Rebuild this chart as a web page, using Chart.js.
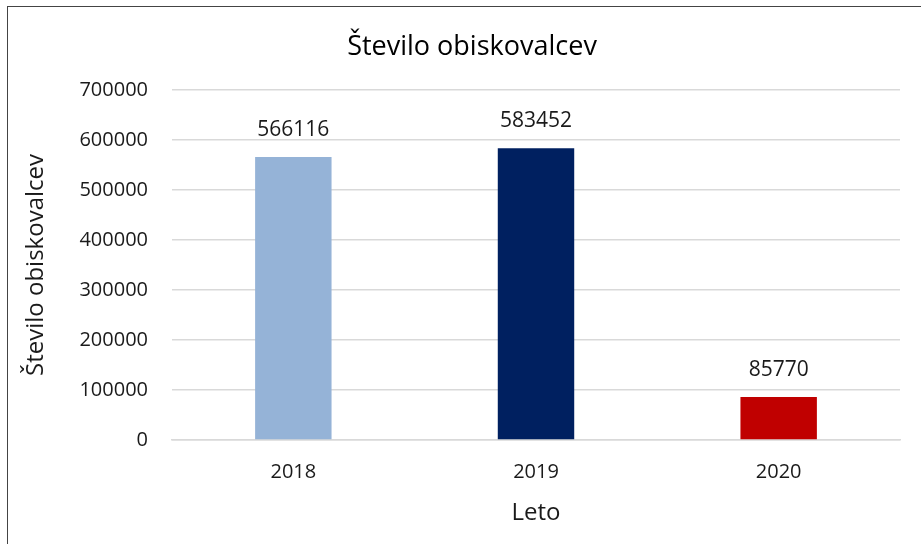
<!DOCTYPE html>
<html>
<head>
<meta charset="utf-8">
<script src="https://cdn.jsdelivr.net/npm/chart.js@4"></script>
<style>
    html, body { margin: 0; padding: 0; background: #fff; }
    #okvir {
        position: absolute; left: 7px; top: 6px; width: 914px; height: 538px;
        border-top: 1.5px solid #444; border-left: 1.5px solid #444;
    }
    canvas { position: absolute; left: 0; top: 0; }
</style>
</head>
<body>
<div id="okvir"></div>
<canvas id="myChart" width="921" height="544"></canvas>
<script>
const leta = ['2018', '2019', '2020'];
const obiskovalci = [566116, 583452, 85770];
const barve = ['#95B3D7', '#002060', '#C00000'];
const naslov = 'Število obiskovalcev';
const pisava = "'Open Sans', 'Noto Sans', sans-serif";

// naslov grafa in oznake vrednosti nad stolpci
const oznakePlugin = {
    id: 'oznake',
    afterDatasetsDraw(chart) {
        const ctx = chart.ctx;
        const meta = chart.getDatasetMeta(0);
        ctx.save();
        ctx.textAlign = 'center';
        ctx.textBaseline = 'middle';

        ctx.font = '27px ' + pisava;
        ctx.fillStyle = '#000';
        ctx.fillText(naslov, 472, 47);

        ctx.font = '21px ' + pisava;
        ctx.fillStyle = '#1a1a1a';
        meta.data.forEach(function (bar, i) {
            ctx.fillText(String(obiskovalci[i]), bar.x, bar.y - 27);
        });
        ctx.restore();
    }
};

const config = {
    type: 'bar',
    data: {
        labels: leta,
        datasets: [{
            label: naslov,
            data: obiskovalci,
            backgroundColor: barve,
            barPercentage: 0.63,
            categoryPercentage: 0.5
        }]
    },
    options: {
        responsive: false,
        animation: false,
        layout: { padding: { left: 20, right: 21, top: 90, bottom: 16 } },
        plugins: {
            legend: { display: false },
            tooltip: { enabled: false },
            title: { display: false }
        },
        scales: {
            x: {
                grid: { display: false, drawTicks: false },
                border: { display: true, color: '#D9D9D9', width: 1.5 },
                ticks: { color: '#1a1a1a', font: { family: pisava, size: 20 }, padding: 20 },
                title: {
                    display: true, text: 'Leto', color: '#1a1a1a',
                    font: { family: pisava, size: 24 }, padding: { top: 0, bottom: 0 }
                },
                afterFit(scale) { scale.height = 88; }
            },
            y: {
                min: 0,
                max: 700000,
                grid: { color: '#D9D9D9', lineWidth: 1.5, drawTicks: false },
                border: { display: false },
                ticks: {
                    stepSize: 100000,
                    color: '#1a1a1a',
                    font: { family: pisava, size: 20 },
                    padding: 24,
                    callback: function (v) { return String(v); }
                },
                title: {
                    display: true, text: naslov, color: '#1a1a1a',
                    font: { family: pisava, size: 24 }, padding: { top: 2, bottom: 0 }
                },
                afterFit(scale) { scale.width = 152; }
            }
        }
    },
    plugins: [oznakePlugin]
};

const myChart = new Chart(document.getElementById('myChart'), config);
</script>
</body>
</html>
